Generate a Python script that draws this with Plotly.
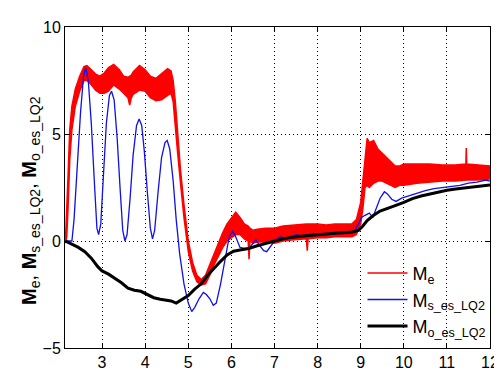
import plotly.graph_objects as go

# ---- M_e (red, dense oscillation band: upper / lower envelope) ----
me_x = [2.15, 2.18, 2.21, 2.25, 2.30, 2.38, 2.48, 2.58, 2.65, 2.75, 2.85, 2.95, 3.05, 3.15, 3.27,
        3.40, 3.50, 3.60, 3.64, 3.68, 3.72, 3.87, 4.00, 4.12, 4.25, 4.38, 4.52, 4.60, 4.65, 4.70,
        4.75, 4.82, 4.90, 5.00, 5.10, 5.20, 5.30, 5.40, 5.50, 5.60, 5.70, 5.80, 5.90, 6.00,
        6.10, 6.20, 6.30, 6.39, 6.41, 6.43, 6.50, 6.60, 6.80, 7.00, 7.20, 7.40, 7.60, 7.74,
        7.76, 7.78, 8.00, 8.20, 8.40, 8.60, 8.80, 8.90, 9.00, 9.05, 9.10, 9.15, 9.20, 9.30,
        9.40, 9.50, 9.60, 9.70, 9.80, 9.90, 10.00, 10.30, 10.60, 10.90, 11.20, 11.44, 11.45,
        11.46, 11.70, 12.00]
me_upper = [0.0, 1.2, 3.0, 5.2, 6.3, 7.1, 7.7, 8.15, 8.2, 8.0, 7.8, 7.7, 7.85, 8.1, 8.25,
            8.0, 7.7, 7.65, 7.7, 7.75, 7.9, 8.2, 8.0, 7.7, 7.6, 7.8, 8.05, 7.95, 7.5, 6.5,
            5.0, 3.3, 1.7, 0.0, -1.0, -1.6, -1.8, -1.6, -1.1, -0.6, -0.1, 0.4, 0.8, 1.1,
            1.35, 1.1, 0.8, 0.7, 0.65, 0.6, 0.5, 0.55, 0.6, 0.6, 0.7, 0.75, 0.8, 0.8,
            0.8, 0.8, 0.8, 0.75, 0.8, 0.8, 0.8, 1.0, 1.8, 2.8, 4.0, 4.8, 4.6, 4.7,
            4.3, 4.1, 3.9, 3.7, 3.5, 3.5, 3.6, 3.6, 3.6, 3.55, 3.55, 3.6, 4.35,
            3.6, 3.55, 3.5]
me_lower = [-0.1, 0.2, 1.5, 3.8, 5.2, 6.3, 7.0, 7.5, 7.5, 7.3, 7.05, 6.9, 6.9, 7.0, 7.3,
            7.1, 6.9, 6.7, 6.35, 6.7, 6.85, 7.05, 7.0, 6.7, 6.55, 6.6, 6.8, 6.9, 6.5, 5.5,
            4.2, 2.7, 1.1, -0.5, -1.4, -1.9, -2.05, -2.0, -1.6, -1.1, -0.7, -0.3, 0.0, 0.15,
            0.3, 0.3, 0.1, 0.0, -0.85, 0.0, -0.1, -0.05, -0.05, -0.1, 0.0, 0.05, 0.1, 0.1,
            -0.45, 0.1, 0.15, 0.15, 0.2, 0.2, 0.2, 0.3, 0.8, 1.5, 2.5, 2.6, 2.5, 2.7,
            2.8, 2.8, 2.7, 2.6, 2.5, 2.6, 2.6, 2.7, 2.75, 2.8, 2.8, 2.85, 2.85,
            2.85, 2.85, 2.9]

# ---- M_s_es_LQ2 (blue) ----
ms_x = [2.15, 2.30, 2.35, 2.42, 2.50, 2.57, 2.62, 2.68, 2.75, 2.82, 2.88, 2.92, 2.97, 3.03,
        3.10, 3.17, 3.22, 3.28, 3.35, 3.42, 3.48, 3.53, 3.58, 3.65, 3.72, 3.80, 3.86, 3.92,
        3.98, 4.05, 4.12, 4.17, 4.22, 4.30, 4.38, 4.46, 4.51, 4.57, 4.65, 4.72, 4.80, 4.90,
        5.00, 5.08, 5.15, 5.25, 5.35, 5.42, 5.50, 5.58, 5.65, 5.75, 5.85, 5.95, 6.03, 6.10,
        6.20, 6.30, 6.40, 6.50, 6.57, 6.65, 6.75, 6.82, 6.90, 7.00, 7.13, 7.30, 7.50, 7.70,
        7.90, 8.10, 8.30, 8.50, 8.70, 8.85, 8.95, 9.02, 9.10, 9.20, 9.28, 9.35, 9.45, 9.55,
        9.62, 9.72, 9.82, 9.95, 10.10, 10.30, 10.50, 10.70, 10.90, 11.10, 11.30, 11.50,
        11.70, 11.90, 12.00]
ms_y = [0.0, 0.0, 1.0, 3.5, 6.0, 7.7, 8.1, 7.5, 5.5, 2.8, 0.6, 0.3, 0.8, 3.0,
        5.5, 6.8, 7.0, 6.6, 4.8, 2.4, 0.5, 0.0, 0.3, 2.0, 4.0, 5.4, 5.7, 5.4,
        4.2, 2.3, 0.6, 0.1, 0.5, 2.3, 3.9, 4.6, 4.7, 4.3, 2.8, 1.0, -0.6, -2.0,
        -2.9, -3.3, -3.1, -2.7, -2.4, -2.5, -2.7, -3.0, -2.9, -2.0, -0.8, 0.2, 0.45, 0.2,
        -0.3, -0.35, -0.35, -0.1, 0.05, -0.2, -0.45, -0.5, -0.3, 0.0, 0.2, 0.1, 0.3, 0.2,
        0.35, 0.3, 0.35, 0.4, 0.4, 0.45, 0.8, 1.1, 1.2, 1.3, 1.1, 1.5, 2.0, 2.3,
        2.2, 1.95, 1.85, 2.0, 2.1, 2.25, 2.35, 2.45, 2.5, 2.55, 2.6, 2.7,
        2.75, 2.85, 2.8]

# ---- M_o_es_LQ2 (black) ----
mo_x = [2.15, 2.30, 2.45, 2.60, 2.75, 2.90, 3.00, 3.15, 3.30, 3.45, 3.60, 3.75, 3.90, 4.05,
        4.20, 4.35, 4.50, 4.60, 4.72, 4.85, 5.00, 5.15, 5.30, 5.45, 5.60, 5.75, 5.90, 6.05,
        6.20, 6.40, 6.60, 6.80, 7.00, 7.20, 7.40, 7.60, 7.80, 8.00, 8.20, 8.40, 8.60, 8.80,
        8.95, 9.05, 9.15, 9.30, 9.45, 9.60, 9.80, 10.00, 10.20, 10.40, 10.60, 10.80, 11.00,
        11.20, 11.40, 11.60, 11.80, 12.00]
mo_y = [0.0, -0.15, -0.3, -0.5, -0.8, -1.2, -1.4, -1.55, -1.75, -1.95, -2.2, -2.3, -2.35, -2.5,
        -2.65, -2.72, -2.75, -2.8, -2.9, -2.75, -2.55, -2.25, -2.0, -1.6, -1.25, -0.95, -0.65, -0.48,
        -0.42, -0.35, -0.22, -0.1, 0.0, 0.1, 0.18, 0.22, 0.26, 0.28, 0.32, 0.36, 0.38, 0.42,
        0.5, 0.7, 0.95, 1.2, 1.4, 1.52, 1.65, 1.8, 1.98, 2.1, 2.2, 2.3, 2.37,
        2.43, 2.48, 2.53, 2.58, 2.62]

x_ticks = [3, 4, 5, 6, 7, 8, 9, 10, 11, 12]
y_ticks = [-5, 0, 5, 10]

RED = "#FF0000"
BLUE = "#1010E8"
BLACK = "#000000"
FONT = "Liberation Sans, Arial, sans-serif"

fig = go.Figure()
fig.add_trace(go.Scatter(x=me_x, y=me_lower, mode="lines", line=dict(color=RED, width=1.5),
                         showlegend=False, hoverinfo="skip"))
fig.add_trace(go.Scatter(x=me_x, y=me_upper, mode="lines", line=dict(color=RED, width=1.5),
                         fill="tonexty", fillcolor=RED, showlegend=False, hoverinfo="skip"))
fig.add_trace(go.Scatter(x=ms_x, y=ms_y, mode="lines", line=dict(color=BLUE, width=1.3),
                         showlegend=False))
fig.add_trace(go.Scatter(x=mo_x, y=mo_y, mode="lines", line=dict(color=BLACK, width=3),
                         showlegend=False))
# legend entries
fig.add_trace(go.Scatter(x=[None], y=[None], mode="lines", line=dict(color=RED, width=1.5),
                         name="M<sub>e</sub>"))
fig.add_trace(go.Scatter(x=[None], y=[None], mode="lines", line=dict(color=BLUE, width=1.5),
                         name="M<sub>s_es_LQ2</sub>"))
fig.add_trace(go.Scatter(x=[None], y=[None], mode="lines", line=dict(color=BLACK, width=3),
                         name="M<sub>o_es_LQ2</sub>"))

axis_common = dict(showline=True, linecolor="black", linewidth=1, mirror="ticks",
                   ticks="inside", ticklen=5, tickcolor="black",
                   showgrid=True, gridcolor="black", gridwidth=1, griddash="1px,3px",
                   zeroline=False, tickfont=dict(family=FONT, size=16, color="black"))

y_title = "<b>M</b><sub>e</sub>, <b>M</b><sub>s_es_LQ2</sub>, <b>M</b><sub>o_es_LQ2</sub>"

fig.update_layout(
    width=502, height=374,
    margin=dict(l=57, r=11, t=12, b=21),
    paper_bgcolor="white", plot_bgcolor="white",
    font=dict(family=FONT, color="black"),
    xaxis=dict(range=[2.14, 12], tickvals=x_ticks, **axis_common),
    yaxis=dict(range=[-5, 10], tickvals=y_ticks, **axis_common),
    legend=dict(x=0.70, y=0.29, xanchor="left", yanchor="top", bgcolor="rgba(0,0,0,0)",
                font=dict(family=FONT, size=18, color="black"), itemwidth=40,
                tracegroupgap=0, traceorder="normal"),
    showlegend=True,
)
fig.add_annotation(xref="paper", x=-0.115, yref="paper", y=0.46, showarrow=False, textangle=-90,
                   text=y_title, font=dict(family=FONT, size=20, color="black"))

fig.write_html("out.html")
